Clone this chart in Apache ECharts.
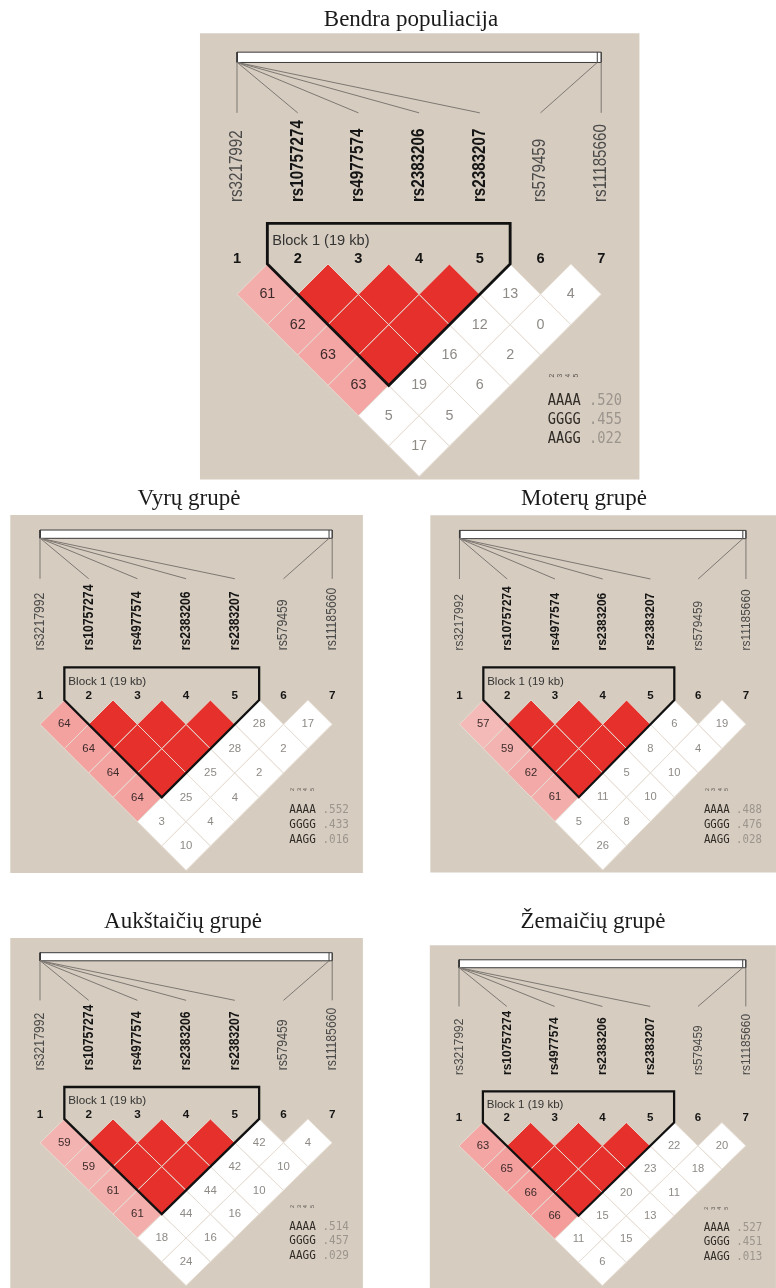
<!DOCTYPE html>
<html>
<head>
<meta charset="utf-8">
<script src="https://cdn.jsdelivr.net/npm/echarts@6/dist/echarts.min.js"></script>
<style>
  html, body { margin: 0; padding: 0; background: #ffffff; }
  #chart { width: 776px; height: 1288px; }
</style>
</head>
<body>
<div id="chart"></div>
<script>
// ---- SNPs (chromosome 9p21 block plus two distant markers) ----
const snpIds = ['rs3217992', 'rs10757274', 'rs4977574', 'rs2383206', 'rs2383207', 'rs579459', 'rs11185660'];
const snpPosMb = [22.003, 22.096, 22.099, 22.115, 22.116, 136.154, 137.4];
const blockSnps = [2, 3, 4, 5];
const blockLabel = 'Block 1 (19 kb)';

// ---- marker pairs (i, j) and whether LOD >= 2 for the pair ----
const pairs = [
  [1, 2], [1, 3], [1, 4], [1, 5], [1, 6], [1, 7],
  [2, 3], [2, 4], [2, 5], [2, 6], [2, 7],
  [3, 4], [3, 5], [3, 6], [3, 7],
  [4, 5], [4, 6], [4, 7],
  [5, 6], [5, 7],
  [6, 7]
];
const lodAbove2 = [
  true, true, true, true, false, false,
  true, true, true, false, false,
  true, true, false, false,
  true, false, false,
  false, false,
  false
];

// ---- D' x 100 for each pair, per group (100 = complete LD) ----
const dpBendra     = [61, 62, 63, 63, 5, 17, 100, 100, 100, 19, 5, 100, 100, 16, 6, 100, 12, 2, 13, 0, 4];
const dpVyru       = [64, 64, 64, 64, 3, 10, 100, 100, 100, 25, 4, 100, 100, 25, 4, 100, 28, 2, 28, 2, 17];
const dpMoteru     = [57, 59, 62, 61, 5, 26, 100, 100, 100, 11, 8, 100, 100, 5, 10, 100, 8, 10, 6, 4, 19];
const dpAukstaiciu = [59, 59, 61, 61, 18, 24, 100, 100, 100, 44, 16, 100, 100, 44, 16, 100, 42, 10, 42, 10, 4];
const dpZemaiciu   = [63, 65, 66, 66, 11, 6, 100, 100, 100, 15, 15, 100, 100, 20, 13, 100, 23, 11, 22, 18, 20];

// ---- block haplotypes and their frequencies, per group ----
const haplotypes = ['AAAA', 'GGGG', 'AAGG'];
const freqBendra     = ['.520', '.455', '.022'];
const freqVyru       = ['.552', '.433', '.016'];
const freqMoteru     = ['.488', '.476', '.028'];
const freqAukstaiciu = ['.514', '.457', '.029'];
const freqZemaiciu   = ['.527', '.451', '.013'];

// ---- group titles ----
const groupTitles = ['Bendra populiacija', 'Vyrų grupė', 'Moterų grupė', 'Aukštaičių grupė', 'Žemaičių grupė'];

const groupDp = [dpBendra, dpVyru, dpMoteru, dpAukstaiciu, dpZemaiciu];
const groupFreq = [freqBendra, freqVyru, freqMoteru, freqAukstaiciu, freqZemaiciu];

// Panel placement: x of marker 1, y of the top corners of the first LD row, marker spacing (px)
const panelLayout = [
  { x1: 237, y0: 264, s: 60.7, tx: 411, ty: 20 },
  { x1: 40,  y0: 700, s: 48.7, tx: 189, ty: 499 },
  { x1: 460, y0: 700, s: 48.6, tx: 584, ty: 499 },
  { x1: 40,  y0: 1123, s: 48.7, tx: 183, ty: 922 },
  { x1: 459, y0: 1127, s: 47.8, tx: 593, ty: 922 }
];

// Extent of a panel in marker units
const X_MIN = 0.39, X_MAX = 7.63, Y_MIN = -3.8, Y_MAX = 3.55;
// Vertical landmarks (marker units, relative to the first LD row)
const BAR_TOP = -3.49, BAR_H = 0.17, LINK_END = -2.49, LABEL_BASE = -1.02;
const NUM_Y = -0.09, BLOCK_TOP = -0.67;
const HAP_X = 6.12, HAP_Y = 2.26, HAP_STEP = 0.31, HAP_IDX_Y = 1.84;

const PANEL_BG = '#d6ccbf';
const SANS = '"Liberation Sans", Arial, sans-serif';
const MONO = '"DejaVu Sans Mono", monospace';

const posMin = Math.min.apply(null, snpPosMb);
const posMax = Math.max.apply(null, snpPosMb);
function posToX(p) { return 1 + 6 * (p - posMin) / (posMax - posMin); }

function cellColor(v, strong) {
  if (!strong) return '#ffffff';
  if (v >= 100) return '#e5302b';
  const d = v / 100;
  const g = Math.round(40 + 340 * (1 - d));
  return 'rgb(243,' + g + ',' + (g - 2) + ')';
}

const grids = [], xAxes = [], yAxes = [], series = [], graphics = [];

panelLayout.forEach(function (L, p) {
  const s = L.s;
  grids.push({
    left: L.x1 - (1 - X_MIN) * s,
    top: L.y0 + Y_MIN * s,
    width: (X_MAX - X_MIN) * s,
    height: (Y_MAX - Y_MIN) * s,
    show: true,
    backgroundColor: PANEL_BG,
    borderWidth: 0,
    containLabel: false
  });
  xAxes.push({ gridIndex: p, type: 'value', min: X_MIN, max: X_MAX, show: false });
  yAxes.push({ gridIndex: p, type: 'value', min: Y_MIN, max: Y_MAX, inverse: true, show: false });

  graphics.push({
    type: 'text', x: L.tx, y: L.ty,
    style: {
      text: groupTitles[p], fill: '#1a1a1a',
      font: '23px "Liberation Serif", "Times New Roman", serif',
      align: 'center', verticalAlign: 'middle'
    }
  });

  const dp = groupDp[p];
  const freq = groupFreq[p];
  const base = { xAxisIndex: p, yAxisIndex: p, type: 'custom', silent: true, clip: false, animation: false };

  // chromosome bar with a tick at every SNP position
  series.push(Object.assign({}, base, {
    data: [[posMin, posMax]],
    renderItem: function (params, api) {
      const a = api.coord([posToX(posMin), BAR_TOP]);
      const b = api.coord([posToX(posMax), BAR_TOP + BAR_H]);
      const kids = [{
        type: 'rect',
        shape: { x: a[0], y: a[1], width: b[0] - a[0], height: b[1] - a[1] },
        style: { fill: '#ffffff', stroke: '#3a3a3a', lineWidth: 1 }
      }];
      snpPosMb.forEach(function (pos) {
        const t = api.coord([posToX(pos), BAR_TOP]);
        kids.push({
          type: 'line',
          shape: { x1: t[0], y1: a[1], x2: t[0], y2: b[1] },
          style: { stroke: '#3a3a3a', lineWidth: 1 }
        });
      });
      return { type: 'group', children: kids };
    }
  }));

  // SNP links, names and marker numbers
  series.push(Object.assign({}, base, {
    data: snpIds.map(function (id, k) { return [k + 1, snpPosMb[k]]; }),
    renderItem: function (params, api) {
      const k = params.dataIndex;
      const u = api.size([1, 0])[0];
      const from = api.coord([posToX(snpPosMb[k]), BAR_TOP + BAR_H]);
      const to = api.coord([k + 1, LINK_END]);
      const lab = api.coord([k + 1, LABEL_BASE]);
      const num = api.coord([k + 1, NUM_Y]);
      const bold = blockSnps.indexOf(k + 1) >= 0;
      return {
        type: 'group',
        children: [
          { type: 'line', shape: { x1: from[0], y1: from[1], x2: to[0], y2: to[1] },
            style: { stroke: '#7d7873', lineWidth: 1 } },
          { type: 'text', x: lab[0], y: lab[1], rotation: Math.PI / 2, scaleY: 1.15,
            style: { text: snpIds[k], fill: bold ? '#151515' : '#4a4a4a',
              font: (bold ? 'bold ' : '') + (0.25 * u).toFixed(1) + 'px ' + SANS,
              align: 'left', verticalAlign: 'middle' } },
          { type: 'text', x: num[0], y: num[1],
            style: { text: String(k + 1), fill: '#151515',
              font: 'bold ' + (0.24 * u).toFixed(1) + 'px ' + SANS,
              align: 'center', verticalAlign: 'middle' } }
        ]
      };
    }
  }));

  // LD cells
  series.push(Object.assign({}, base, {
    data: pairs.map(function (pr, n) { return [pr[0], pr[1], dp[n]]; }),
    renderItem: function (params, api) {
      const n = params.dataIndex;
      const i = pairs[n][0], j = pairs[n][1], v = dp[n], strong = lodAbove2[n];
      const cx = (i + j) / 2, cy = (j - i) / 2;
      const u = api.size([1, 0])[0];
      const pts = [
        api.coord([cx, cy - 0.5]), api.coord([cx + 0.5, cy]),
        api.coord([cx, cy + 0.5]), api.coord([cx - 0.5, cy])
      ];
      const c = api.coord([cx, cy]);
      const kids = [{
        type: 'polygon', shape: { points: pts },
        style: { fill: cellColor(v, strong), stroke: '#e6ddd3', lineWidth: 1 }
      }];
      if (!(strong && v >= 100)) {
        kids.push({
          type: 'text', x: c[0], y: c[1],
          style: { text: String(v), fill: strong ? '#3d2b2b' : '#8e8a86',
            font: (0.235 * u).toFixed(1) + 'px ' + SANS,
            align: 'center', verticalAlign: 'middle' }
        });
      }
      return { type: 'group', children: kids };
    }
  }));

  // haplotype block outline
  series.push(Object.assign({}, base, {
    data: [[blockSnps[0], blockSnps[blockSnps.length - 1]]],
    renderItem: function (params, api) {
      const a = blockSnps[0], b = blockSnps[blockSnps.length - 1];
      const u = api.size([1, 0])[0];
      const pts = [
        api.coord([a - 0.5, BLOCK_TOP]), api.coord([b + 0.5, BLOCK_TOP]),
        api.coord([b + 0.5, 0]), api.coord([(a + b) / 2, (b - a) / 2 + 0.5]),
        api.coord([a - 0.5, 0])
      ];
      const t = api.coord([a - 0.5 + 0.08, BLOCK_TOP + 0.29]);
      return {
        type: 'group',
        children: [
          { type: 'polygon', shape: { points: pts },
            style: { fill: null, stroke: '#111111', lineWidth: 0.047 * u, lineJoin: 'miter' } },
          { type: 'text', x: t[0], y: t[1],
            style: { text: blockLabel, fill: '#333333',
              font: (0.24 * u).toFixed(1) + 'px ' + SANS,
              align: 'left', verticalAlign: 'middle' } }
        ]
      };
    }
  }));

  // haplotypes with frequencies
  series.push(Object.assign({}, base, {
    data: haplotypes.map(function (h, r) { return [HAP_X, HAP_Y + r * HAP_STEP]; }),
    renderItem: function (params, api) {
      const r = params.dataIndex;
      const u = api.size([1, 0])[0];
      const fs = 0.225 * u;
      const pos = api.coord([HAP_X, HAP_Y + r * HAP_STEP]);
      const kids = [{
        type: 'text', x: pos[0], y: pos[1], scaleY: 1.1,
        style: {
          text: '{h|' + haplotypes[r] + '} {f|' + freq[r] + '}',
          font: fs.toFixed(1) + 'px ' + MONO,
          align: 'left', verticalAlign: 'middle',
          rich: {
            h: { fill: '#2f2b27', font: fs.toFixed(1) + 'px ' + MONO },
            f: { fill: '#9c958d', font: fs.toFixed(1) + 'px ' + MONO }
          }
        }
      }];
      if (r === 0) {
        const cw = 0.602 * fs;
        blockSnps.forEach(function (m, q) {
          const t = api.coord([HAP_X, HAP_IDX_Y]);
          kids.push({
            type: 'text', x: t[0] + (q + 0.5) * cw, y: t[1], rotation: Math.PI / 2,
            style: { text: String(m), fill: '#5a5550',
              font: (0.11 * u).toFixed(1) + 'px ' + SANS,
              align: 'center', verticalAlign: 'middle' }
          });
        });
      }
      return { type: 'group', children: kids };
    }
  }));
});

const chart = echarts.init(document.getElementById('chart'), null, { renderer: 'canvas' });
chart.setOption({
  backgroundColor: '#ffffff',
  animation: false,
  grid: grids,
  xAxis: xAxes,
  yAxis: yAxes,
  graphic: graphics,
  series: series
});
</script>
</body>
</html>
